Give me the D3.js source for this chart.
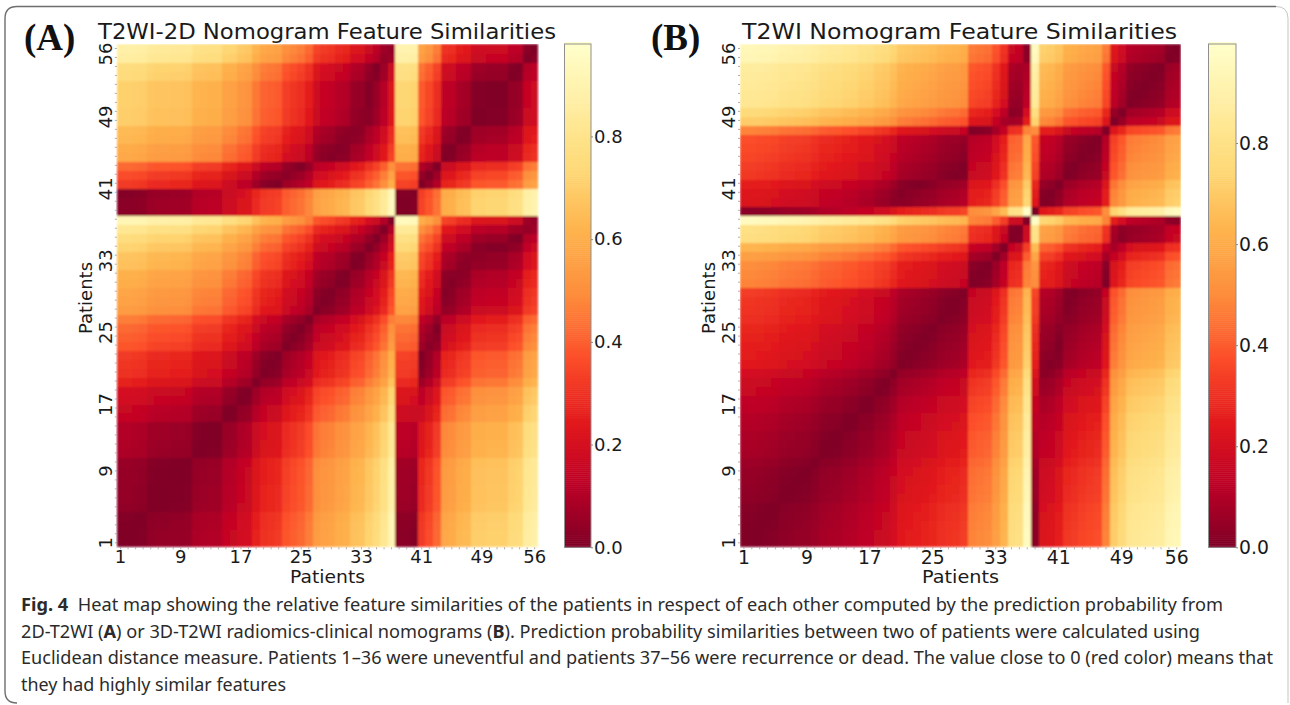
<!DOCTYPE html>
<html>
<head>
<meta charset="utf-8">
<script src="https://cdn.jsdelivr.net/npm/d3@7"></script>
<style>
    html, body { margin: 0; padding: 0; background: #fff; }
    svg { display: block; }
    text { font-family: "DejaVu Sans", sans-serif; fill: #1a1a1a; }
    .caption text { font-family: "Noto Sans", sans-serif; font-size: 18px; fill: #2b2b2b; }
    .letter { font-family: "Liberation Serif", serif; font-weight: bold; font-size: 37px; fill: #111; }
</style>
</head>
<body>
<svg id="fig" width="1290" height="705"></svg>
<script>
const scoresA = [
    .02, .02, .025, .03, .055, .06, .06, .065, .065, .07,
    .11, .115, .12, .12, .17, .175, .21, .22, .28, .32,
    .33, .34, .40, .42, .44, .48, .56, .58, .59, .62,
    .63, .68, .69, .74, .78, .84, .94, 0, 0, .01,
    .34, .38, .44, .60, .61, .65, .66, .72, .72, .73,
    .73, .73, .77, .78, .88, .90
];
const scoresB = [
    .02, .02, .025, .03, .035, .05, .055, .06, .065, .08,
    .10, .105, .11, .125, .13, .15, .155, .18, .19, .22,
    .26, .27, .28, .29, .30, .32, .33, .335, .35, .50,
    .51, .52, .58, .65, .80, .81, .98, 0, .24, .25,
    .28, .34, .35, .37, .38, .39, .50, .73, .78, .85,
    .86, .87, .88, .89, .95, .96
];
const patients = d3.range(1, 57);
const tickLabels = [1, 9, 17, 25, 33, 41, 49, 56];
const barTicks = [0, 0.2, 0.4, 0.6, 0.8];
const ylorrd = ['#800026', '#bd0026', '#e31a1c', '#fc4e2a', '#fd8d3c', '#feb24c', '#fed976', '#ffeda0', '#ffffcc'];
const captionLines = [
    {width: 1202, parts: [['Fig. 4', true], ['  Heat map showing the relative feature similarities of the patients in respect of each other computed by the prediction probability from', false]]},
    {width: 1179, parts: [['2D-T2WI (', false], ['A', true], [') or 3D-T2WI radiomics-clinical nomograms (', false], ['B', true], ['). Prediction probability similarities between two of patients were calculated using', false]]},
    {width: 1252, parts: [['Euclidean distance measure. Patients 1–36 were uneventful and patients 37–56 were recurrence or dead. The value close to 0 (red color) means that', false]]},
    {width: 265, parts: [['they had highly similar features', false]]}
];

const svg = d3.select('#fig');

svg.append('defs').append('filter')
    .attr('id', 'soft')
    .attr('x', 0).attr('y', 0).attr('width', 1).attr('height', 1)
    .append('feGaussianBlur')
    .attr('stdDeviation', 0.8);

// card outline, the right edge is much fainter in the picture
svg.append('path')
    .attr('d', 'M1276 6.5H17Q5 6.5 5 18.5V691Q5 703 17 703')
    .attr('fill', 'none').attr('stroke', '#6e6e6e').attr('stroke-width', 1.4);
svg.append('path')
    .attr('d', 'M1276 6.5Q1288 6.5 1288 18.5V703')
    .attr('fill', 'none').attr('stroke', '#c4c4c4').attr('stroke-width', 1);

function drawPanel(p){
    const g = svg.append('g');
    const vmax = p.vmax;
    const color = d3.scaleLinear()
        .domain(ylorrd.map((c, i)=> vmax * i / (ylorrd.length - 1)))
        .range(ylorrd)
        .clamp(true);

    const x = d3.scaleBand().domain(patients).range([p.left, p.right]);
    const y = d3.scaleBand().domain(patients).range([p.bottom, p.top]);

    let cells = [];
    patients.forEach((row, i)=>{
        patients.forEach((col, j)=>{
            cells.push({row: row, col: col, value: Math.abs(p.scores[i] - p.scores[j])});
        });
    });

    g.append('g')
        .attr('filter', 'url(#soft)')
        .attr('shape-rendering', 'crispEdges')
        .selectAll('rect')
        .data(cells)
        .join('rect')
        .attr('x', d=> x(d.col))
        .attr('y', d=> y(d.row))
        .attr('width', d=> d.col == 56 ? x.bandwidth() : x.bandwidth() + 1)
        .attr('height', d=> d.row == 1 ? y.bandwidth() : y.bandwidth() + 1)
        .attr('fill', d=> color(d.value));

    const fmt = d=> tickLabels.includes(d) ? d : '';

    let xAxis = g.append('g')
        .attr('transform', `translate(0,${p.bottom})`)
        .call(d3.axisBottom(x).tickFormat(fmt).tickSize(2).tickPadding(1));
    let yAxis = g.append('g')
        .attr('transform', `translate(${p.left},0)`)
        .call(d3.axisLeft(y).tickFormat(fmt).tickSize(2));

    [xAxis, yAxis].forEach(a=>{
        a.attr('font-family', null);
        a.select('.domain').remove();
        a.selectAll('line').attr('stroke', '#999').attr('stroke-width', 0.8);
        a.selectAll('text').attr('fill', null);
    });
    xAxis.selectAll('text').attr('font-size', p.tickFont);
    yAxis.selectAll('text').attr('font-size', 18);

    // the rotated two digit labels sit a little below their tick in the original
    yAxis.selectAll('text')
        .attr('x', null).attr('dy', null)
        .attr('text-anchor', 'middle')
        .attr('transform', d=> `translate(-5,${String(d).length > 1 ? 5.5 : 0}) rotate(-90)`);

    g.append('text')
        .attr('x', p.titleX)
        .attr('y', 39)
        .attr('font-size', 21)
        .attr('textLength', p.titleWidth)
        .attr('lengthAdjust', 'spacingAndGlyphs')
        .text(p.title);

    g.append('text')
        .attr('x', p.xLabelX)
        .attr('y', 583)
        .attr('font-size', 18)
        .attr('textLength', p.xLabelWidth)
        .attr('lengthAdjust', 'spacingAndGlyphs')
        .text('Patients');

    g.append('text')
        .attr('transform', `translate(${p.left - 25},298) rotate(-90)`)
        .attr('text-anchor', 'middle')
        .attr('font-size', 18)
        .text('Patients');

    g.append('text')
        .attr('class', 'letter')
        .attr('x', p.letterX)
        .attr('y', 50)
        .text(p.letter);

    // colour bar
    const bar = d3.scaleLinear().domain([0, vmax]).range([p.bottom, p.top]);
    const steps = d3.range(0, 256).map(i=> vmax * i / 255);
    g.append('g')
        .selectAll('rect')
        .data(steps)
        .join('rect')
        .attr('x', p.barLeft)
        .attr('y', d=> bar(d) - (p.bottom - p.top) / 256)
        .attr('width', p.barRight - p.barLeft)
        .attr('height', (p.bottom - p.top) / 256 + 0.5)
        .attr('fill', d=> color(d));
    g.append('rect')
        .attr('x', p.barLeft).attr('y', p.top)
        .attr('width', p.barRight - p.barLeft).attr('height', p.bottom - p.top)
        .attr('fill', 'none').attr('stroke', '#8f8f8f').attr('stroke-width', 1);

    let barAxis = g.append('g')
        .attr('transform', `translate(${p.barRight},0)`)
        .call(d3.axisRight(bar).tickValues(barTicks).tickFormat(d3.format('.1f')).tickSize(2).tickPadding(1));
    barAxis.attr('font-family', null);
    barAxis.select('.domain').remove();
    barAxis.selectAll('line').attr('stroke', '#888');
    barAxis.selectAll('text').attr('font-size', p.tickFont).attr('fill', null);
}

drawPanel({
    scores: scoresA, vmax: 0.98, title: 'T2WI-2D Nomogram Feature Similarities',
    titleX: 98, titleWidth: 458, xLabelX: 290, xLabelWidth: 75, tickFont: 18,
    letter: '(A)', letterX: 24,
    left: 116.8, right: 538.4, top: 44, bottom: 547.3, barLeft: 564.5, barRight: 591
});
drawPanel({
    scores: scoresB, vmax: 0.996, title: 'T2WI Nomogram Feature Similarities',
    titleX: 742, titleWidth: 435, xLabelX: 922, xLabelWidth: 77, tickFont: 18.8,
    letter: '(B)', letterX: 651,
    left: 740, right: 1180.7, top: 44, bottom: 547.3, barLeft: 1208.5, barRight: 1236
});

const caption = svg.append('g').attr('class', 'caption');
captionLines.forEach((line, i)=>{
    let t = caption.append('text')
        .attr('x', 21)
        .attr('y', 611 + i * 26.6)
        .attr('textLength', line.width)
        .attr('lengthAdjust', 'spacingAndGlyphs')
        .attr('xml:space', 'preserve');
    line.parts.forEach(part=>{
        t.append('tspan')
            .attr('font-weight', part[1] ? 'bold' : 'normal')
            .text(part[0]);
    });
});
</script>
</body>
</html>
